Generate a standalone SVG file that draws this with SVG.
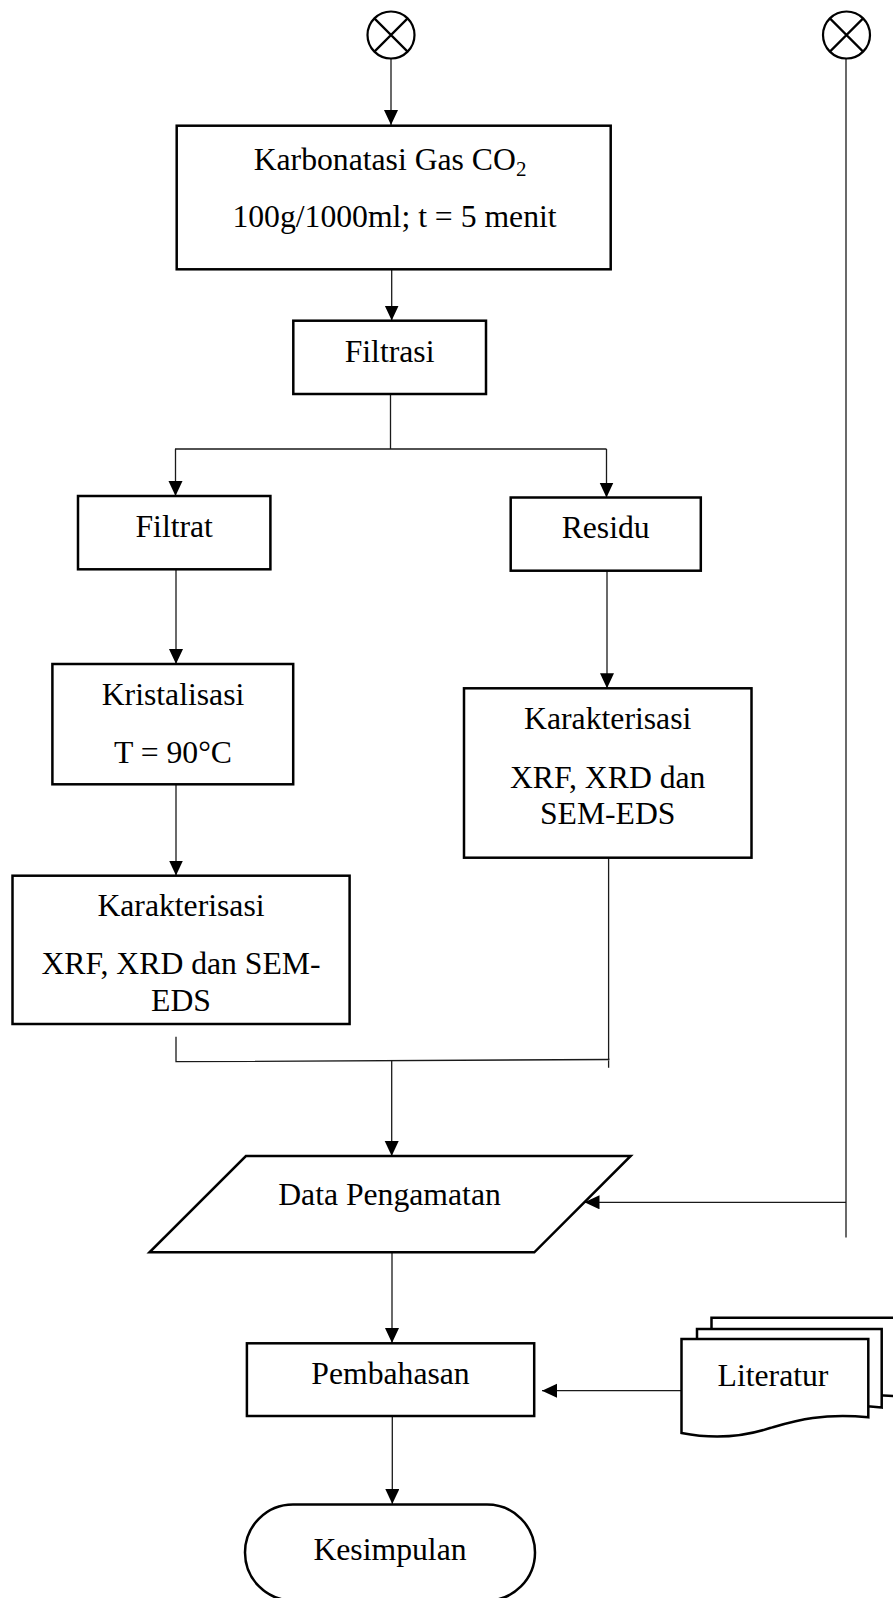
<svg xmlns="http://www.w3.org/2000/svg" width="893" height="1598" viewBox="0 0 893 1598">
<style>
.n{fill:#fff;stroke:#000;stroke-width:2.5}
.c{fill:none;stroke:#1a1a1a;stroke-width:1.3}
.t{font-family:"Liberation Serif","Times New Roman",serif;font-size:31.7px;fill:#000;text-anchor:middle}
.x{fill:none;stroke:#000;stroke-width:2.2}
</style>
<defs>
<marker id="a" markerUnits="userSpaceOnUse" markerWidth="16" markerHeight="15" refX="15" refY="7" orient="auto">
<path d="M0,0 L15,7 L0,14 z" fill="#000"/>
</marker>
</defs>
<rect width="893" height="1598" fill="#fff"/>
<g id="connectors">
<path class="c" d="M391,58.5 V125" marker-end="url(#a)"/>
<path class="c" d="M391.7,263 V320.5" marker-end="url(#a)"/>
<path class="c" d="M390.5,387 V449 M175,449 H606.5"/>
<path class="c" d="M175.5,449 V496" marker-end="url(#a)"/>
<path class="c" d="M606.5,449 V497.5" marker-end="url(#a)"/>
<path class="c" d="M176,569.5 V664" marker-end="url(#a)"/>
<path class="c" d="M607,570.7 V688.3" marker-end="url(#a)"/>
<path class="c" d="M176,777.3 V875.5" marker-end="url(#a)"/>
<path class="c" d="M176,1036.7 V1061.7 L609.5,1059.5 M608.6,850.7 V1067.7"/>
<path class="c" d="M391.7,1061 V1156" marker-end="url(#a)"/>
<path class="c" d="M846,58.5 V1237.5"/>
<path class="c" d="M846,1202.3 H584.5" marker-end="url(#a)"/>
<path class="c" d="M392,1246.7 V1343" marker-end="url(#a)"/>
<path class="c" d="M681,1390.7 H542" marker-end="url(#a)"/>
<path class="c" d="M392.3,1416 V1504" marker-end="url(#a)"/>
</g>
<g id="start1">
<circle class="x" cx="391" cy="35" r="23.5"/>
<path class="x" d="M374.4,18.4 L407.6,51.6 M407.6,18.4 L374.4,51.6"/>
</g>
<g id="start2">
<circle class="x" cx="846.5" cy="35" r="23.5"/>
<path class="x" d="M829.9,18.4 L863.1,51.6 M863.1,18.4 L829.9,51.6"/>
</g>
<g id="karbonatasi">
<rect class="n" x="176.7" y="125.7" width="434" height="143.6"/>
<text class="t" x="390" y="170">Karbonatasi Gas CO<tspan font-size="21" dy="6">2</tspan></text>
<text class="t" x="394.5" y="227.3">100g/1000ml; t = 5 menit</text>
</g>
<g id="filtrasi">
<rect class="n" x="293.3" y="320.7" width="192.7" height="73.3"/>
<text class="t" x="389.6" y="361.7">Filtrasi</text>
</g>
<g id="filtrat">
<rect class="n" x="78" y="496" width="192.4" height="73.3"/>
<text class="t" x="174.2" y="537">Filtrat</text>
</g>
<g id="residu">
<rect class="n" x="510.7" y="497.5" width="190.1" height="73.2" stroke-width="3"/>
<text class="t" x="605.7" y="538">Residu</text>
</g>
<g id="kristalisasi">
<rect class="n" x="52.4" y="664" width="240.8" height="120.3" stroke-width="2.8"/>
<text class="t" x="173" y="705">Kristalisasi</text>
<text class="t" x="173" y="763.3">T = 90°C</text>
</g>
<g id="karakterisasi-kiri">
<rect class="n" x="12.5" y="875.7" width="337.1" height="148.3" stroke-width="2.8"/>
<text class="t" x="181" y="916">Karakterisasi</text>
<text class="t" x="181" y="974.3">XRF, XRD dan SEM-</text>
<text class="t" x="181" y="1011">EDS</text>
</g>
<g id="karakterisasi-kanan">
<rect class="n" x="464" y="688.3" width="287.5" height="169.4" stroke-width="2.8"/>
<text class="t" x="607.7" y="729.3">Karakterisasi</text>
<text class="t" x="607.7" y="787.7">XRF, XRD dan</text>
<text class="t" x="607.7" y="824.3">SEM-EDS</text>
</g>
<g id="data-pengamatan">
<polygon class="n" points="245.9,1156 630.7,1156 534.3,1252.3 149.5,1252.3"/>
<text class="t" x="389.5" y="1205">Data Pengamatan</text>
</g>
<g id="pembahasan">
<rect class="n" x="246.9" y="1343.3" width="287.3" height="72.7"/>
<text class="t" x="390.5" y="1384">Pembahasan</text>
</g>
<g id="literatur">
<path class="n" d="M711.5,1317.7 H897 V1396.5 C850,1391 811,1404 791,1410 C762,1418 737,1418 711.5,1412 Z"/>
<path class="n" d="M697,1329 H881.7 V1407.5 C835,1402 796,1415 776,1421 C747,1429 722,1429 697,1423 Z"/>
<path class="n" d="M681.5,1339 H868.3 V1417.3 C820,1413 795,1421 770,1428 C740,1438 712,1439 681.5,1433 Z"/>
<text class="t" x="773" y="1386">Literatur</text>
</g>
<g id="kesimpulan">
<rect class="n" x="245" y="1504.5" width="290" height="96" rx="48" ry="48"/>
<text class="t" x="390" y="1560">Kesimpulan</text>
</g>
</svg>
